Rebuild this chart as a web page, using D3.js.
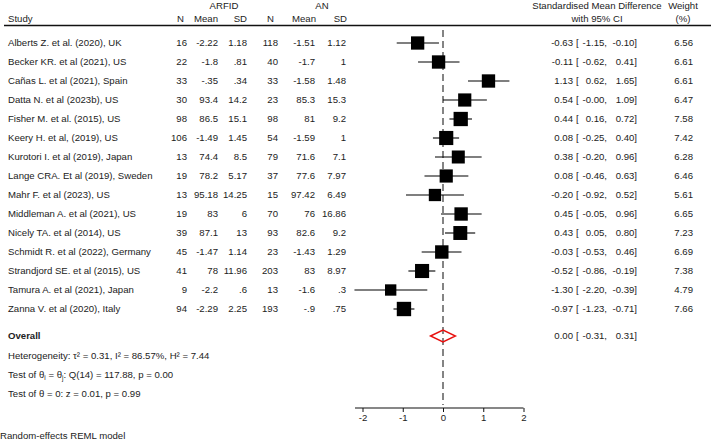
<!DOCTYPE html>
<html>
<head>
<meta charset="utf-8">
<script src="https://cdn.jsdelivr.net/npm/d3@7"></script>
<style>
  html, body { margin: 0; padding: 0; background: #fff; }
  svg { display: block; font-family: "Liberation Sans", Arial, sans-serif; }
</style>
</head>
<body>
<div id="chart"></div>
<script>
const studies = [
  "Alberts Z. et al. (2020), UK", "Becker KR. et al (2021), US", "Cañas L. et al (2021), Spain",
  "Datta N. et al (2023b), US", "Fisher M. et al. (2015), US", "Keery H. et al, (2019), US",
  "Kurotori I. et al (2019), Japan", "Lange CRA. Et al (2019), Sweden", "Mahr F. et al (2023), US",
  "Middleman A. et al (2021), US", "Nicely TA. et al (2014), US", "Schmidt R. et al (2022), Germany",
  "Strandjord SE. et al (2015), US", "Tamura A. et al (2021), Japan", "Zanna V. et al (2020), Italy"
];
const arfidN    = ["16", "22", "33", "30", "98", "106", "13", "19", "13", "19", "39", "45", "41", "9", "94"];
const arfidMean = ["-2.22", "-1.8", "-.35", "93.4", "86.5", "-1.49", "74.4", "78.2", "95.18", "83", "87.1", "-1.47", "78", "-2.2", "-2.29"];
const arfidSD   = ["1.18", ".81", ".34", "14.2", "15.1", "1.45", "8.5", "5.17", "14.25", "6", "13", "1.14", "11.96", ".6", "2.25"];
const anN       = ["118", "40", "33", "23", "98", "54", "79", "37", "15", "70", "93", "23", "203", "13", "193"];
const anMean    = ["-1.51", "-1.7", "-1.58", "85.3", "81", "-1.59", "71.6", "77.6", "97.42", "76", "82.6", "-1.43", "83", "-1.6", "-.9"];
const anSD      = ["1.12", "1", "1.48", "15.3", "9.2", "1", "7.1", "7.97", "6.49", "16.86", "9.2", "1.29", "8.97", ".3", ".75"];
const smd   = [-0.63, -0.11, 1.13, 0.54, 0.44, 0.08, 0.38, 0.08, -0.20, 0.45, 0.43, -0.03, -0.52, -1.30, -0.97];
const ciLow = [-1.15, -0.62, 0.62, -0.001, 0.16, -0.25, -0.20, -0.46, -0.92, -0.05, 0.05, -0.53, -0.86, -2.20, -1.23];
const ciHigh = [-0.10, 0.41, 1.65, 1.09, 0.72, 0.40, 0.96, 0.63, 0.52, 0.96, 0.80, 0.46, -0.19, -0.39, -0.71];
const weights = [6.56, 6.61, 6.61, 6.47, 7.58, 7.42, 6.28, 6.46, 5.61, 6.65, 7.23, 6.69, 7.38, 4.79, 7.66];
const overall = [0.00, -0.31, 0.31];
const xTicks = [-2, -1, 0, 1, 2];

const W = 711, H = 441;
const FS = 9.6;
const ink = "#222";

const svg = d3.select("#chart").append("svg")
  .attr("width", W).attr("height", H)
  .style("font-size", FS + "px");

const x = d3.scaleLinear().domain([-2, 2]).range([362.5, 523.5]);
const y = d3.scaleLinear().domain([0, 14]).range([43, 309]);
const side = d3.scaleSqrt().domain([0, 10]).range([0, 16.4]);

// hyphen instead of unicode minus, like the original
const fmt2 = v => {
  let s = d3.format(".2f")(v).replace("−", "-");
  if (v < 0 && s === "0.00") s = "-0.00";
  return s;
};

// header
const hdr = svg.append("g").attr("fill", ink);
hdr.append("text").attr("x", 224).attr("y", 9).attr("text-anchor", "middle").text("ARFID");
hdr.append("text").attr("x", 322).attr("y", 9).attr("text-anchor", "middle").text("AN");
hdr.append("text").attr("x", 8).attr("y", 22).text("Study");
const colX = [187, 218, 247, 278, 315, 346];
const headX = [184, 218, 247, 274, 316, 347];
const colHead = ["N", "Mean", "SD", "N", "Mean", "SD"];
colHead.forEach((h, i) => {
  hdr.append("text").attr("x", headX[i]).attr("y", 22).attr("text-anchor", "end").text(h);
});
hdr.append("text").attr("x", 597).attr("y", 9).attr("text-anchor", "middle").text("Standardised Mean Difference");
hdr.append("text").attr("x", 597).attr("y", 22).attr("text-anchor", "middle").text("with 95% CI");
hdr.append("text").attr("x", 683).attr("y", 9).attr("text-anchor", "middle").text("Weight");
hdr.append("text").attr("x", 683).attr("y", 22).attr("text-anchor", "middle").text("(%)");

svg.append("line")
  .attr("x1", 4).attr("x2", 711).attr("y1", 25.5).attr("y2", 25.5)
  .attr("stroke", "#111").attr("stroke-width", 1.5);

// null line
svg.append("line")
  .attr("x1", x(0)).attr("x2", x(0)).attr("y1", 30).attr("y2", 405)
  .attr("stroke", "#666").attr("stroke-width", 1.6)
  .attr("stroke-dasharray", "7,4");

// rows
const cols = [arfidN, arfidMean, arfidSD, anN, anMean, anSD];

const rows = svg.append("g").selectAll("g").data(studies).join("g")
  .attr("transform", (d, i) => `translate(0,${y(i)})`)
  .attr("fill", ink);

rows.append("text").attr("x", 8).attr("dy", "0.35em").text(d => d);
cols.forEach((arr, c) => {
  rows.append("text").attr("x", colX[c]).attr("dy", "0.35em").attr("text-anchor", "end")
    .text((d, i) => arr[i]);
});

rows.append("line")
  .attr("x1", (d, i) => x(ciLow[i])).attr("x2", (d, i) => x(ciHigh[i]))
  .attr("stroke", "#000").attr("stroke-width", 1.1);
rows.append("rect")
  .attr("x", (d, i) => x(smd[i]) - side(weights[i]) / 2)
  .attr("y", (d, i) => -side(weights[i]) / 2)
  .attr("width", (d, i) => side(weights[i]))
  .attr("height", (d, i) => side(weights[i]))
  .attr("fill", "#000");

const ciText = (g, est, lo, hi) => {
  g.append("text").attr("x", 573).attr("dy", "0.35em").attr("text-anchor", "end").text(est);
  g.append("text").attr("x", 576).attr("dy", "0.35em").text("[");
  g.append("text").attr("x", 607).attr("dy", "0.35em").attr("text-anchor", "end").text(lo + ",");
  g.append("text").attr("x", 637).attr("dy", "0.35em").attr("text-anchor", "end").text(hi + "]");
};
rows.each(function (d, i) {
  ciText(d3.select(this), fmt2(smd[i]), fmt2(ciLow[i]), fmt2(ciHigh[i]));
});
rows.append("text").attr("x", 693).attr("dy", "0.35em").attr("text-anchor", "end")
  .text((d, i) => fmt2(weights[i]));

// overall
const oy = 336;
const ov = svg.append("g").attr("transform", `translate(0,${oy})`).attr("fill", ink);
ov.append("text").attr("x", 8).attr("dy", "0.35em").attr("font-weight", "bold").text("Overall");
ov.append("path")
  .attr("d", `M${x(overall[1])},0L${x(overall[0])},-6L${x(overall[2])},0L${x(overall[0])},6Z`)
  .attr("fill", "none").attr("stroke", "#e8100f").attr("stroke-width", 1.4);
ciText(ov, fmt2(overall[0]), fmt2(overall[1]), fmt2(overall[2]));

// stats text
const st = svg.append("g").attr("fill", ink);
st.append("text").attr("x", 8).attr("y", 356).attr("dy", "0.35em")
  .text("Heterogeneity: τ² = 0.31, I² = 86.57%, H² = 7.44");
const t2 = st.append("text").attr("x", 8).attr("y", 375).attr("dy", "0.35em");
t2.append("tspan").text("Test of θ");
t2.append("tspan").attr("font-size", "6.5px").attr("dy", "2").text("i");
t2.append("tspan").attr("dy", "-2").text(" = θ");
t2.append("tspan").attr("font-size", "6.5px").attr("dy", "2").text("j");
t2.append("tspan").attr("dy", "-2").text(": Q(14) = 117.88, p = 0.00");
st.append("text").attr("x", 8).attr("y", 394).attr("dy", "0.35em")
  .text("Test of θ = 0: z = 0.01, p = 0.99");
st.append("text").attr("x", 0).attr("y", 435.5).attr("dy", "0.35em")
  .text("Random-effects REML model");

// axis
const axis = svg.append("g")
  .attr("transform", "translate(0,408)")
  .call(d3.axisBottom(x).tickValues(xTicks).tickSize(4).tickSizeOuter(0).tickFormat(d => String(d)));
axis.select(".domain").attr("stroke", "#111").attr("stroke-width", 1.1)
  .attr("d", `M${355},0H${x(2)}`);
axis.selectAll(".tick line").attr("stroke", "#111");
axis.selectAll(".tick text").attr("fill", ink).attr("y", 6)
  .style("font-size", FS + "px").style("font-family", "'Liberation Sans', Arial, sans-serif");
</script>
</body>
</html>
